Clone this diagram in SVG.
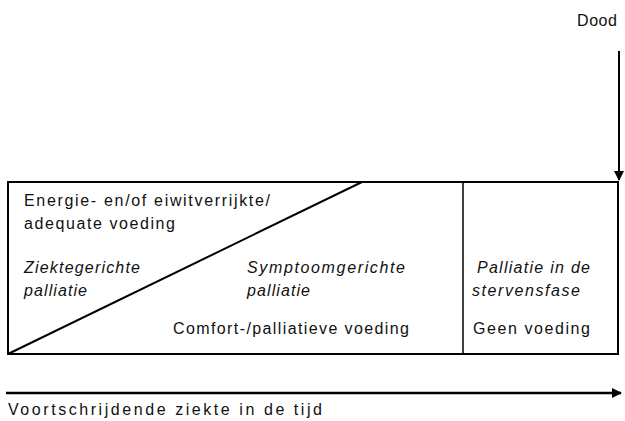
<svg xmlns="http://www.w3.org/2000/svg" width="625" height="421" viewBox="0 0 625 421">
<style>
text{font-family:"Liberation Sans",Arial,sans-serif;font-size:16px;fill:#111}
.i{font-style:italic}
.ln{stroke:#000;fill:none}
</style>
<defs>
<marker id="ah" markerWidth="10" markerHeight="10" refX="9" refY="5" orient="auto" markerUnits="userSpaceOnUse">
<path d="M0,0 L10,5 L0,10 Z" fill="#000"/>
</marker>
</defs>
<rect width="625" height="421" fill="#fff"/>
<g id="box">
<rect x="8" y="182" width="610" height="172" class="ln" stroke-width="2"/>
<line x1="463" y1="182" x2="463" y2="354" class="ln" stroke-width="1.5"/>
<line x1="8" y1="354" x2="362" y2="182" class="ln" stroke-width="2"/>
</g>
<g id="topleft">
<text x="24" y="206" textLength="246">Energie- en/of eiwitverrijkte/</text>
<text x="24" y="229" textLength="151">adequate voeding</text>
</g>
<g id="ziekte">
<text class="i" x="24" y="273" textLength="116">Ziektegerichte</text>
<text class="i" x="24" y="296" textLength="63">palliatie</text>
</g>
<g id="symptoom">
<text class="i" x="247" y="273" textLength="158">Symptoomgerichte</text>
<text class="i" x="247" y="296" textLength="63">palliatie</text>
<text x="173" y="334" textLength="236">Comfort-/palliatieve voeding</text>
</g>
<g id="sterven">
<text class="i" x="477" y="273" textLength="113">Palliatie in de</text>
<text class="i" x="472" y="296" textLength="108">stervensfase</text>
<text x="473" y="334" textLength="117">Geen voeding</text>
</g>
<g id="dood">
<text x="577" y="26" textLength="40">Dood</text>
</g>
<g id="connectors">
<line x1="619" y1="51" x2="619" y2="180" class="ln" stroke-width="2" marker-end="url(#ah)"/>
<line x1="6" y1="393" x2="621" y2="393" class="ln" stroke-width="2.5" marker-end="url(#ah)"/>
</g>
<g id="tijd">
<text x="8" y="415" textLength="314">Voortschrijdende ziekte in de tijd</text>
</g>
</svg>
